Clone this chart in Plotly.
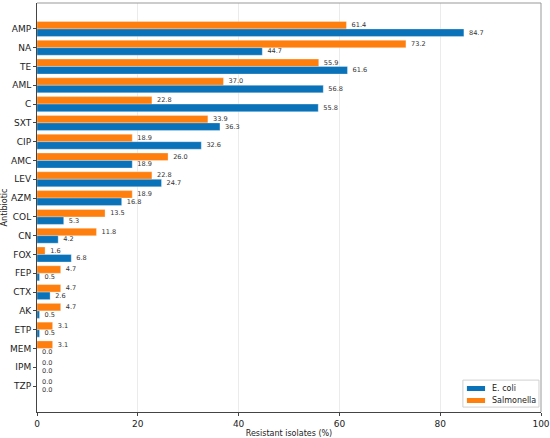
import plotly.graph_objects as go

antibiotics = ["AMP", "NA", "TE", "AML", "C", "SXT", "CIP", "AMC", "LEV", "AZM",
               "COL", "CN", "FOX", "FEP", "CTX", "AK", "ETP", "MEM", "IPM", "TZP"]
ecoli = [84.7, 44.7, 61.6, 56.8, 55.8, 36.3, 32.6, 18.9, 24.7, 16.8,
         5.3, 4.2, 6.8, 0.5, 2.6, 0.5, 0.5, 0.0, 0.0, 0.0]
salmonella = [61.4, 73.2, 55.9, 37.0, 22.8, 33.9, 18.9, 26.0, 22.8, 18.9,
              13.5, 11.8, 1.6, 4.7, 4.7, 4.7, 3.1, 3.1, 0.0, 0.0]

BLUE = "#0a72b8"
ORANGE = "#ff7f0e"

fig = go.Figure()
# Salmonella first so it sits on top of each pair on the reversed axis
fig.add_trace(go.Bar(
    y=antibiotics, x=salmonella, name="Salmonella", orientation="h",
    marker=dict(color=ORANGE, line=dict(color="rgba(255,255,255,0.6)", width=0.5)),
    text=[f"\u00a0{v:.1f}" for v in salmonella], textposition="outside",
    textfont=dict(size=7, color="#333"), cliponaxis=False,
))
fig.add_trace(go.Bar(
    y=antibiotics, x=ecoli, name="E. coli", orientation="h",
    marker=dict(color=BLUE, line=dict(color="rgba(255,255,255,0.6)", width=0.5)),
    text=[f"\u00a0{v:.1f}" for v in ecoli], textposition="outside",
    textfont=dict(size=7, color="#333"), cliponaxis=False,
))

fig.update_layout(
    width=550, height=438,
    margin=dict(l=37, r=9, t=3, b=26, autoexpand=False),
    barmode="group", bargap=0.2, bargroupgap=0,
    plot_bgcolor="white", paper_bgcolor="white",
    font=dict(family="DejaVu Sans", size=9, color="#222"),
    showlegend=False,
    uniformtext=dict(minsize=6, mode="show"),
)
fig.update_xaxes(
    range=[0, 100], dtick=20, showgrid=True, gridcolor="#ebebeb", gridwidth=1,
    zeroline=False, showline=True, linecolor="#444", linewidth=1, mirror=False,
    ticks="outside", ticklen=3, tickcolor="#444", tickfont=dict(size=9),
    title=dict(text="Resistant isolates (%)", font=dict(size=8), standoff=2),
    automargin=False,
)
fig.update_yaxes(
    categoryorder="array", categoryarray=antibiotics,
    range=[len(antibiotics) - 1 + 1.38, -1.38],
    showgrid=False, showline=True, linecolor="#444", linewidth=1,
    ticks="outside", ticklen=3, tickcolor="#444", tickfont=dict(size=9),
    title=dict(text="Antibiotic", font=dict(size=8), standoff=2),
    automargin=False,
)
# light frame on top and right like the original axes box
fig.add_shape(type="line", xref="paper", yref="paper", x0=0, x1=1, y0=1, y1=1,
              line=dict(color="#999", width=1))
fig.add_shape(type="line", xref="paper", yref="paper", x0=1, x1=1, y0=0, y1=1,
              line=dict(color="#999", width=1))

# compact matplotlib-like legend box, lower right
fig.add_shape(type="rect", xref="paper", yref="paper", x0=0.845, x1=0.996,
              y0=0.012, y1=0.078, line=dict(color="#d0d0d0", width=1),
              fillcolor="white")
legend_items = [("E. coli", BLUE, 0.0575), ("Salmonella", ORANGE, 0.0281)]
for label, color, yc in legend_items:
    fig.add_shape(type="rect", xref="paper", yref="paper", x0=0.853, x1=0.889,
                  y0=yc - 0.0061, y1=yc + 0.0061, line=dict(width=0),
                  fillcolor=color)
    fig.add_annotation(text=label, xref="paper", yref="paper", x=0.899, y=yc,
                       xanchor="left", yanchor="middle", showarrow=False,
                       font=dict(size=8, color="#222"))

fig.write_html("out.html", config={"displayModeBar": False},
               post_script="document.body.style.margin='0';")
